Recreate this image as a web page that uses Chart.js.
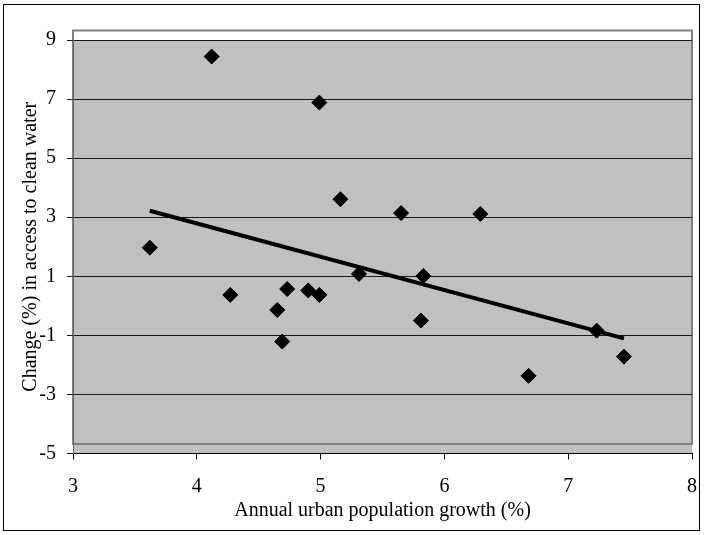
<!DOCTYPE html>
<html>
<head>
<meta charset="utf-8">
<script src="https://cdn.jsdelivr.net/npm/chart.js@4/dist/chart.umd.min.js"></script>
<style>
	body { margin: 0; background: #fff; }
	#box { width: 704px; height: 535px; }
</style>
</head>
<body>
<div id="box"><canvas id="myChart" width="704" height="535"></canvas></div>
<script>
/* data */
var growthX = [3.62, 4.12, 4.27, 4.65, 4.69, 4.73, 4.90, 4.99, 4.99, 5.16, 5.31, 5.65, 5.81, 5.83, 6.29, 6.68, 7.23, 7.45];
var waterY  = [1.97, 8.44, 0.37, -0.14, -1.21, 0.57, 0.52, 6.88, 0.37, 3.61, 1.08, 3.14, -0.50, 1.01, 3.11, -2.37, -0.84, -1.72];
var trendX = [3.62, 7.45];
var trendY = [3.22, -1.10];
var xTicks = [3, 4, 5, 6, 7, 8];
var yTicks = [-5, -3, -1, 1, 3, 5, 7, 9];

var xTitle = 'Annual urban population growth (%)';
var yTitle = 'Change (%) in access to clean water';

var serif = "'Liberation Serif', 'Times New Roman', serif";

function toPoints(xs, ys) {
	var pts = [];
	for (var i = 0; i < xs.length; i++) {
		pts.push({x: xs[i], y: ys[i]});
	}
	return pts;
}

/* white page, outer frame, grey plot area (border drawn a bit higher, like the original) */
var plotArea = {
	id: 'plotArea',
	beforeDraw: function(chart) {
		var ctx = chart.ctx;
		var a = chart.chartArea;
		ctx.save();
		ctx.fillStyle = '#fff';
		ctx.fillRect(0, 0, chart.width, chart.height);
		ctx.strokeStyle = '#000';
		ctx.lineWidth = 1;
		ctx.strokeRect(3.5, 4.5, 696, 526);
		ctx.fillStyle = '#c0c0c0';
		ctx.fillRect(a.left, a.top, a.right - a.left, a.bottom - a.top);
		ctx.strokeStyle = '#808080';
		ctx.lineWidth = 2;
		ctx.strokeRect(a.left, a.top - 9.5, a.right - a.left, a.bottom - a.top);
		ctx.restore();
	}
};

var ctx = document.getElementById('myChart').getContext('2d');
var myChart = new Chart(ctx, {
	type: 'scatter',
	data: {
		datasets: [{
			data: toPoints(growthX, waterY),
			pointStyle: 'rectRot',
			pointRadius: 7.5,
			pointBorderWidth: 1,
			pointBackgroundColor: '#000',
			pointBorderColor: '#000',
			order: 2
		}, {
			type: 'line',
			data: toPoints(trendX, trendY),
			borderColor: '#000',
			borderWidth: 4,
			pointRadius: 0,
			fill: false,
			order: 1
		}]
	},
	options: {
		responsive: false,
		animation: false,
		layout: { padding: { top: 40, right: 12, left: 0, bottom: 0 } },
		plugins: {
			legend: { display: false },
			tooltip: { enabled: false }
		},
		scales: {
			x: {
				type: 'linear',
				min: 3,
				max: 8,
				afterBuildTicks: function(scale) {
					scale.ticks = xTicks.map(function(v) { return {value: v}; });
				},
				afterFit: function(scale) {
					scale.height = 81.5;
					// the label padding would otherwise eat into the right side
					scale.paddingLeft = 0;
					scale.paddingRight = 5;
				},
				grid: { drawOnChartArea: false, drawTicks: true, tickLength: 6, color: '#000' },
				border: { color: '#000', width: 1 },
				ticks: { color: '#000', padding: 15, font: { family: serif, size: 20 } },
				title: { display: true, text: xTitle, color: '#000', padding: { top: 0, bottom: 12 }, font: { family: serif, size: 20 } }
			},
			y: {
				type: 'linear',
				min: -5,
				max: 9,
				afterBuildTicks: function(scale) {
					scale.ticks = yTicks.map(function(v) { return {value: v}; });
				},
				afterFit: function(scale) { scale.width = 73; },
				grid: { drawOnChartArea: true, drawTicks: true, tickLength: 6, color: '#1a1a1a' },
				border: { color: '#666', width: 1 },
				ticks: { color: '#000', padding: 11, font: { family: serif, size: 20 } },
				title: { display: true, text: yTitle, color: '#000', padding: { top: 19, bottom: 0 }, font: { family: serif, size: 20 } }
			}
		}
	},
	plugins: [plotArea]
});
</script>
</body>
</html>
